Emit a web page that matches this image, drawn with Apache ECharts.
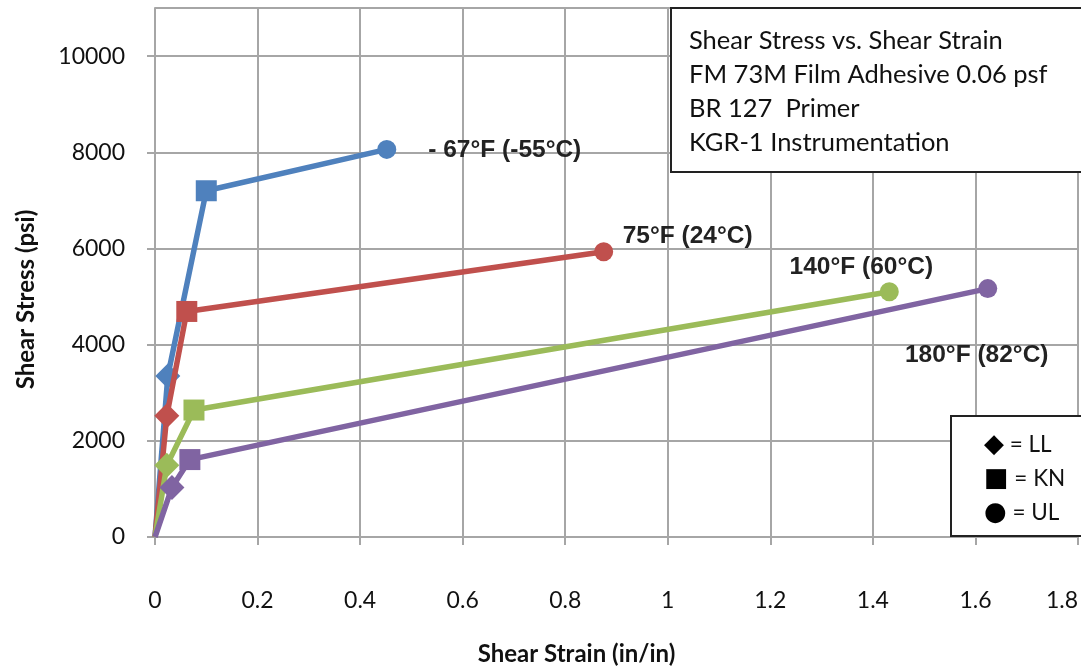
<!DOCTYPE html>
<html>
<head>
<meta charset="utf-8">
<script src="https://cdn.jsdelivr.net/npm/echarts@6/dist/echarts.min.js"></script>
<style>
  html, body { margin: 0; padding: 0; background: #fff; }
  #chart { width: 1081px; height: 671px; }
</style>
</head>
<body>
<div id="chart"></div>
<script>
// values: strain (in/in) and stress (psi)
var markers = ['none', 'diamond', 'rect', 'circle'];

var strainM67 = [0, 0.025, 0.1, 0.452];
var stressM67 = [0, 3350, 7200, 8060];

var strain75 = [0, 0.023, 0.062, 0.875];
var stress75 = [0, 2520, 4690, 5930];

var strain140 = [0, 0.023, 0.076, 1.432];
var stress140 = [0, 1490, 2640, 5100];

var strain180 = [0, 0.033, 0.068, 1.624];
var stress180 = [0, 1030, 1610, 5165];

var tempLabels = ['- 67°F (-55°C)', '75°F (24°C)', '140°F (60°C)', '180°F (82°C)'];
var infoLines = ['Shear Stress vs. Shear Strain', 'FM 73M Film Adhesive 0.06 psf', 'BR 127  Primer', 'KGR-1 Instrumentation'];

var colors = ['#4F81BD', '#C0504D', '#9BBB59', '#8064A2'];
var labelOffsets = [[118, 1], [84, -16], [-28, -24], [-11, 67]];
var symbolSizes = { none: 1, diamond: 25, rect: 21, circle: 19 };

function buildData(xs, ys, idx) {
    var out = [];
    for (var i = 0; i < xs.length; i++) {
        var m = markers[i];
        var item = {
            value: [xs[i], ys[i]],
            symbol: m,
            symbolSize: symbolSizes[m]
        };
        if (i === xs.length - 1) {
            item.label = {
                show: true,
                position: 'inside',
                offset: labelOffsets[idx],
                formatter: tempLabels[idx],
                fontFamily: 'Liberation Sans',
                fontWeight: 'bold',
                fontSize: 24.5,
                color: '#222'
            };
        }
        out.push(item);
    }
    return out;
}

function makeSeries(xs, ys, idx) {
    return {
        type: 'line',
        data: buildData(xs, ys, idx),
        lineStyle: { width: 5.5, color: colors[idx] },
        itemStyle: { color: colors[idx] },
        showAllSymbol: true,
        animation: false,
        z: 2 + idx
    };
}

var myChart = echarts.init(document.getElementById('chart'));
var option = {
    backgroundColor: '#fff',
    textStyle: { fontFamily: 'Lato' },
    title: [
        {
            text: infoLines.join('\n'),
            left: 671,
            top: 8,
            padding: [16, 60, 12, 18],
            borderColor: '#222',
            borderWidth: 2,
            backgroundColor: '#fff',
            textStyle: {
                fontFamily: 'Lato',
                fontWeight: 'normal',
                fontSize: 25.5,
                lineHeight: 34,
                color: '#111'
            },
            z: 10
        },
        {
            text: '{s|◆} = LL\n{s|■} = KN\n{s|●} = UL',
            left: 951,
            top: 416,
            padding: [12, 60, 6, 33],
            borderColor: '#222',
            borderWidth: 2,
            backgroundColor: '#fff',
            textStyle: {
                fontFamily: 'Lato',
                fontWeight: 'normal',
                fontSize: 22.5,
                lineHeight: 34,
                color: '#111',
                rich: {
                    s: { fontFamily: 'DejaVu Sans', fontSize: 26, color: '#000' }
                }
            },
            z: 10
        }
    ],
    grid: { left: 155, top: 8, width: 928, height: 533 },
    xAxis: {
        type: 'value',
        min: 0,
        max: 1.8,
        interval: 0.2,
        name: 'Shear Strain (in/in)',
        nameLocation: 'middle',
        nameGap: 105,
        nameTextStyle: {
            fontFamily: 'Lato', fontWeight: 'bold', fontSize: 24, color: '#111',
            padding: [0, 80, 0, 0]
        },
        axisLine: { lineStyle: { color: '#a6a6a6', width: 2 } },
        axisTick: { show: true, length: 8, lineStyle: { color: '#a6a6a6', width: 2 } },
        splitLine: { lineStyle: { color: '#a6a6a6', width: 2 } },
        axisLabel: {
            margin: 52,
            fontSize: 23,
            color: '#111',
            fontFamily: 'Lato',
            alignMaxLabel: 'right'
        }
    },
    yAxis: {
        type: 'value',
        min: 0,
        max: 11000,
        interval: 2000,
        name: 'Shear Stress (psi)',
        nameLocation: 'middle',
        nameGap: 117,
        nameRotate: 90,
        nameTextStyle: {
            fontFamily: 'Lato', fontWeight: 'bold', fontSize: 24, color: '#111',
            padding: [0, 54, 0, 0]
        },
        axisLine: { show: true, lineStyle: { color: '#a6a6a6', width: 2 } },
        axisTick: { show: true, length: 8, lineStyle: { color: '#a6a6a6', width: 2 } },
        splitLine: { lineStyle: { color: '#a6a6a6', width: 2 } },
        axisLabel: {
            margin: 30,
            fontSize: 23,
            color: '#111',
            fontFamily: 'Lato',
            showMaxLabel: false,
            formatter: function (v) { return String(v); }
        }
    },
    series: [
        makeSeries(strainM67, stressM67, 0),
        makeSeries(strain75, stress75, 1),
        makeSeries(strain140, stress140, 2),
        makeSeries(strain180, stress180, 3)
    ]
};
myChart.setOption(option);
</script>
</body>
</html>
